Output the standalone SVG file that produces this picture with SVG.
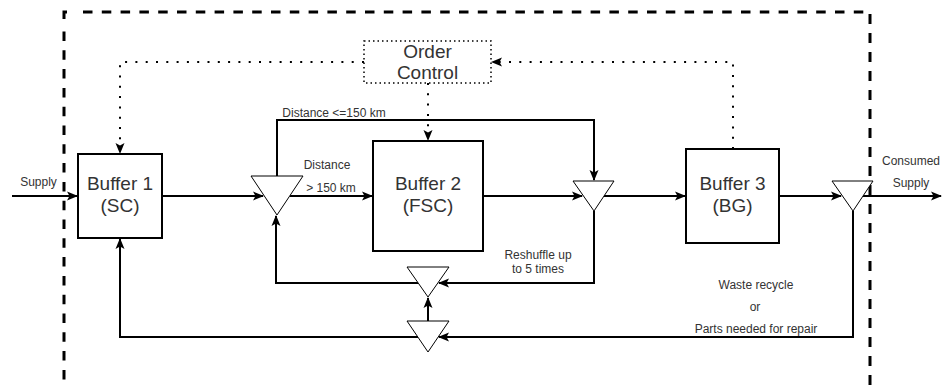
<svg xmlns="http://www.w3.org/2000/svg" width="943" height="387" viewBox="0 0 943 387">
<style>
.box{fill:#fff;stroke:#000;stroke-width:2}
.tri{fill:#fff;stroke:#000;stroke-width:1}
.con{fill:none;stroke:#000;stroke-width:2}
.dot{fill:none;stroke:#000;stroke-width:2;stroke-dasharray:2 8.3}
.dash{fill:none;stroke:#000;stroke-width:3;stroke-dasharray:9.5 9.3}
.big{font-family:"Liberation Sans",Arial,sans-serif;font-size:19px;fill:#333;text-anchor:middle}
.sm{font-family:"Liberation Sans",Arial,sans-serif;font-size:12px;fill:#333;text-anchor:middle}
</style>
<defs>
<marker id="ah" markerUnits="userSpaceOnUse" markerWidth="12" markerHeight="10" refX="10" refY="4.5" orient="auto" overflow="visible">
<path d="M0,0 L11,4.5 L0,9 L2.5,4.5 z" fill="#000"/>
</marker>
</defs>
<rect width="943" height="387" fill="#fff"/>
<g id="boundary">
<path d="M67,12 L64,12 L64,19" fill="none" stroke="#000" stroke-width="3"/>
<path class="dash" d="M64,31.5 L64,400"/>
<path class="dash" d="M83,12 L866,12"/>
<path class="dash" d="M870,14 L870,400" style="stroke-dasharray:10 9"/>
</g>
<g id="connectors">
<path class="con" d="M12,196 L77,196" marker-end="url(#ah)"/>
<path class="con" d="M162,196 L263,196" marker-end="url(#ah)"/>
<path class="con" d="M290,196 L372,196" marker-end="url(#ah)"/>
<path class="con" d="M277,176 L277,120 L594,120 L594,180" marker-end="url(#ah)"/>
<path class="con" d="M483,196 L582,196" marker-end="url(#ah)"/>
<path class="con" d="M604,196 L685,196" marker-end="url(#ah)"/>
<path class="con" d="M779,196 L841,196" marker-end="url(#ah)"/>
<path class="con" d="M863,196 L941,196" marker-end="url(#ah)"/>
<path class="con" d="M594,211 L594,283 L439,283" marker-end="url(#ah)"/>
<path class="con" d="M418,283 L276,283 L276,216" marker-end="url(#ah)"/>
<path class="con" d="M428,321 L428,298" marker-end="url(#ah)"/>
<path class="con" d="M853,211 L853,337 L439,337" marker-end="url(#ah)"/>
<path class="con" d="M418,337 L120,337 L120,239" marker-end="url(#ah)"/>
<path class="dot" d="M364,62 L120,62 L120,153" marker-end="url(#ah)"/>
<path class="dot" d="M428,83 L428,140" marker-end="url(#ah)"/>
<path class="dot" d="M733,149 L733,62 L492,62" marker-end="url(#ah)"/>
</g>
<g id="order-control">
<rect x="364" y="41" width="127" height="42" fill="#fff" stroke="#000" stroke-width="1.5" stroke-dasharray="1.5 3"/>
<text class="big" x="427.5" y="58">Order</text>
<text class="big" x="427.5" y="79">Control</text>
</g>
<g id="buffer1">
<rect class="box" x="78" y="154" width="84" height="84"/>
<text class="big" x="120" y="190">Buffer 1</text>
<text class="big" x="120" y="212">(SC)</text>
</g>
<g id="buffer2">
<rect class="box" x="373" y="141" width="110" height="110"/>
<text class="big" x="428" y="190">Buffer 2</text>
<text class="big" x="428" y="212">(FSC)</text>
</g>
<g id="buffer3">
<rect class="box" x="686" y="149" width="93" height="94"/>
<text class="big" x="732.5" y="190">Buffer 3</text>
<text class="big" x="732.5" y="212">(BG)</text>
</g>
<g id="splitter1"><polygon class="tri" points="251,176 303,176 277,215"/></g>
<g id="merger2"><polygon class="tri" points="573,181 614,181 594,211"/></g>
<g id="splitter3"><polygon class="tri" points="832,181 873,181 853,211"/></g>
<g id="merger4"><polygon class="tri" points="407,267 449,267 428,297"/></g>
<g id="merger5"><polygon class="tri" points="407,321 449,321 428,352"/></g>
<g id="labels">
<text class="sm" x="38.5" y="186">Supply</text>
<text class="sm" x="334" y="117">Distance &lt;=150 km</text>
<text class="sm" x="327" y="169">Distance</text>
<text class="sm" x="331" y="192">&gt; 150 km</text>
<text class="sm" x="911" y="165">Consumed</text>
<text class="sm" x="911" y="187">Supply</text>
<text class="sm" x="538" y="259">Reshuffle up</text>
<text class="sm" x="538" y="273">to 5 times</text>
<text class="sm" x="756" y="289">Waste recycle</text>
<text class="sm" x="755" y="311">or</text>
<text class="sm" x="756" y="333">Parts needed for repair</text>
</g>
</svg>
